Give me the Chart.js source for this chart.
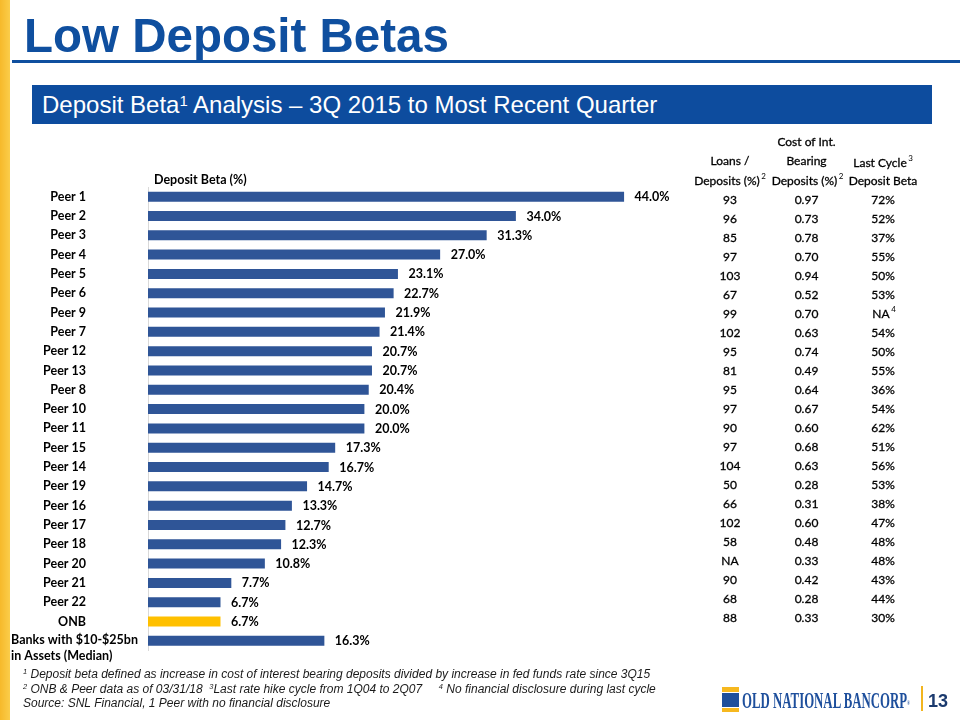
<!DOCTYPE html>
<html>
<head>
<meta charset="utf-8">
<script src="https://cdn.jsdelivr.net/npm/chart.js@4/dist/chart.umd.min.js"></script>
<style>
  body { margin: 0; background: #fff; }
  #page { position: relative; width: 960px; height: 720px; overflow: hidden; font-family: "Liberation Sans", Arial, sans-serif; }
  #chart { position: absolute; left: 0; top: 0; }
  .stripe { position: absolute; left: 0; top: 0; width: 10px; height: 720px; background: linear-gradient(90deg, #f6b92a, #fbcd4a); }
  .title { position: absolute; left: 24px; top: 12px; font-size: 47.5px; line-height: 47.5px; font-weight: bold; color: #0f4f9f; white-space: nowrap; }
  .rule { position: absolute; left: 12px; top: 60px; width: 948px; height: 3px; background: #0f4f9f; }
  .banner { position: absolute; left: 32px; top: 85px; width: 900px; height: 39px; background: #0d4c9e; }
  .banner span { position: absolute; left: 10px; top: 8px; font-size: 24px; line-height: 24px; color: #fff; white-space: nowrap; }
  sup { font-size: 0.62em; line-height: 0; vertical-align: 0.5em; }
  .notes { position: absolute; left: 23px; top: 667px; font-size: 12px; line-height: 14.5px; font-style: italic; color: #1a1a1a; white-space: pre; }
  .logo-icon { position: absolute; left: 722px; top: 687px; width: 17px; height: 25px; }
  .logo-icon div { position: absolute; left: 0; width: 17px; }
  .logo-text { position: absolute; left: 742px; top: 689px; font-family: "Liberation Serif", "Times New Roman", serif; font-weight: bold; font-size: 23px; line-height: 23px; color: #1e4f9c; white-space: nowrap; transform-origin: 0 0; }
  .logo-bar { position: absolute; left: 921px; top: 686px; width: 2px; height: 25px; background: #f2b51e; }
  .page-num { position: absolute; left: 928px; top: 692px; font-size: 18px; line-height: 18px; font-weight: bold; color: #1b3a6e; }
</style>
</head>
<body>
<div id="page">
  <canvas id="chart" width="960" height="720"></canvas>
  <div class="stripe"></div>
  <div class="title">Low Deposit Betas</div>
  <div class="rule"></div>
  <div class="banner"><span>Deposit Beta<sup>1</sup> Analysis – 3Q 2015 to Most Recent Quarter</span></div>
  <div class="notes"><sup>1</sup> Deposit beta defined as increase in cost of interest bearing deposits divided by increase in fed funds rate since 3Q15
<sup>2</sup> ONB &amp; Peer data as of 03/31/18  <sup>3</sup>Last rate hike cycle from 1Q04 to 2Q07     <sup>4</sup> No financial disclosure during last cycle
Source: SNL Financial, 1 Peer with no financial disclosure</div>
  <div class="logo-icon">
    <div style="top:0;height:5px;background:#f6b81f"></div>
    <div style="top:6px;height:14px;background:#1e4f9c"></div>
    <div style="top:21px;height:4px;background:#f6b81f"></div>
  </div>
  <div class="logo-text" id="logoText">OLD NATIONAL BANCORP<sup style="font-size:0.3em">®</sup></div>
  <div class="logo-bar"></div>
  <div class="page-num">13</div>
</div>
<script>
const categories = ["Peer 1", "Peer 2", "Peer 3", "Peer 4", "Peer 5", "Peer 6", "Peer 9", "Peer 7",
  "Peer 12", "Peer 13", "Peer 8", "Peer 10", "Peer 11", "Peer 15", "Peer 14", "Peer 19", "Peer 16",
  "Peer 17", "Peer 18", "Peer 20", "Peer 21", "Peer 22", "ONB", ["Banks with $10-$25bn", "in Assets (Median)"]];
const depositBeta = [44.0, 34.0, 31.3, 27.0, 23.1, 22.7, 21.9, 21.4, 20.7, 20.7, 20.4, 20.0, 20.0,
  17.3, 16.7, 14.7, 13.3, 12.7, 12.3, 10.8, 7.7, 6.7, 6.7, 16.3];

// table on the right (one row per peer / ONB)
const loansToDeposits = ["93", "96", "85", "97", "103", "67", "99", "102", "95", "81", "95", "97",
  "90", "97", "104", "50", "66", "102", "58", "NA", "90", "68", "88"];
const costOfIntBearing = ["0.97", "0.73", "0.78", "0.70", "0.94", "0.52", "0.70", "0.63", "0.74", "0.49",
  "0.64", "0.67", "0.60", "0.68", "0.63", "0.28", "0.31", "0.60", "0.48", "0.33", "0.42", "0.28", "0.33"];
const lastCycleBeta = ["72%", "52%", "37%", "55%", "50%", "53%", "NA", "54%", "50%", "55%", "36%", "54%",
  "62%", "51%", "56%", "53%", "38%", "47%", "48%", "48%", "43%", "44%", "30%"];
const lastCycleNote = { 6: "4" };

const BLUE = "#2f5597";
const GOLD = "#ffc000";
const barColors = categories.map(c => (c === "ONB" ? GOLD : BLUE));

// squeeze the logo wordmark to its width
const logo = document.getElementById("logoText");
logo.style.transform = "scaleX(" + (168 / logo.getBoundingClientRect().width) + ")";

const boldFont = "bold 12.5px Lato";
const tableFont = "12px Lato";

function supText(ctx, text, sup, x, y) {
  // centred text with a small superscript after it, a touch heavier than plain Lato
  const w = ctx.measureText(text).width;
  ctx.textAlign = "left";
  const left = x - w / 2;
  ctx.fillText(text, left, y);
  ctx.strokeText(text, left, y);
  if (sup) {
    const f = ctx.font;
    ctx.font = "8px Lato";
    ctx.fillText(sup, left + w + 1.5, y - 5);
    ctx.font = f;
  }
}

const extras = {
  id: "extras",
  afterDraw(chart) {
    const ctx = chart.ctx;
    const area = chart.chartArea;
    const yScale = chart.scales.y;
    ctx.save();
    ctx.fillStyle = "#000";
    ctx.strokeStyle = "#000";
    ctx.lineWidth = 0.3;
    ctx.textBaseline = "middle";

    // chart caption
    ctx.font = boldFont;
    ctx.textAlign = "left";
    ctx.fillText("Deposit Beta (%)", area.left + 6, 180);

    // value labels
    chart.getDatasetMeta(0).data.forEach((bar, i) => {
      ctx.fillText(depositBeta[i].toFixed(1) + "%", bar.x + 10.5, bar.y + 0.5);
    });

    // long last category, left aligned
    const lastIdx = categories.length - 1;
    const yl = yScale.getPixelForValue(lastIdx);
    categories[lastIdx].forEach((line, k) => ctx.fillText(line, 11, yl - 1 + k * 16));

    // table
    const cols = [730, 806.5, 883];
    ctx.font = tableFont;
    supText(ctx, "Cost of Int.", null, cols[1], 142);
    supText(ctx, "Loans /", null, cols[0], 161);
    supText(ctx, "Bearing", null, cols[1], 161);
    supText(ctx, "Last Cycle", "3", cols[2] - 3, 163);
    supText(ctx, "Deposits (%)", "2", cols[0] - 3, 181);
    supText(ctx, "Deposits (%)", "2", cols[1] - 2, 181);
    supText(ctx, "Deposit Beta", null, cols[2], 181);

    const rowTop = 200, rowStep = 19.0;
    loansToDeposits.forEach((v, i) => {
      const y = rowTop + i * rowStep;
      supText(ctx, v, null, cols[0], y);
      supText(ctx, costOfIntBearing[i], null, cols[1], y);
      supText(ctx, lastCycleBeta[i], lastCycleNote[i] || null, cols[2] - (lastCycleNote[i] ? 2 : 0), y);
    });
    ctx.restore();
  }
};

new Chart(document.getElementById("chart"), {
  type: "bar",
  data: {
    labels: categories,
    datasets: [{
      data: depositBeta,
      backgroundColor: barColors,
      barPercentage: 1,
      categoryPercentage: 0.52
    }]
  },
  options: {
    indexAxis: "y",
    responsive: false,
    animation: false,
    events: [],
    layout: { padding: { left: 0, top: 187, right: 271, bottom: 65 } },
    plugins: { legend: { display: false }, tooltip: { enabled: false } },
    scales: {
      x: { display: false, min: 0, max: 50 },
      y: {
        afterFit(scale) { scale.width = 148; },
        grid: { display: false, drawTicks: false },
        border: { display: true, color: "#d9d9d9", width: 1 },
        ticks: {
          padding: 62,
          color: "#000",
          font: { family: "Lato", size: 12.5, weight: "bold" },
          callback(value) {
            const l = this.getLabelForValue(value);
            return Array.isArray(l) ? "" : l;
          }
        }
      }
    }
  },
  plugins: [extras]
});
</script>
</body>
</html>
